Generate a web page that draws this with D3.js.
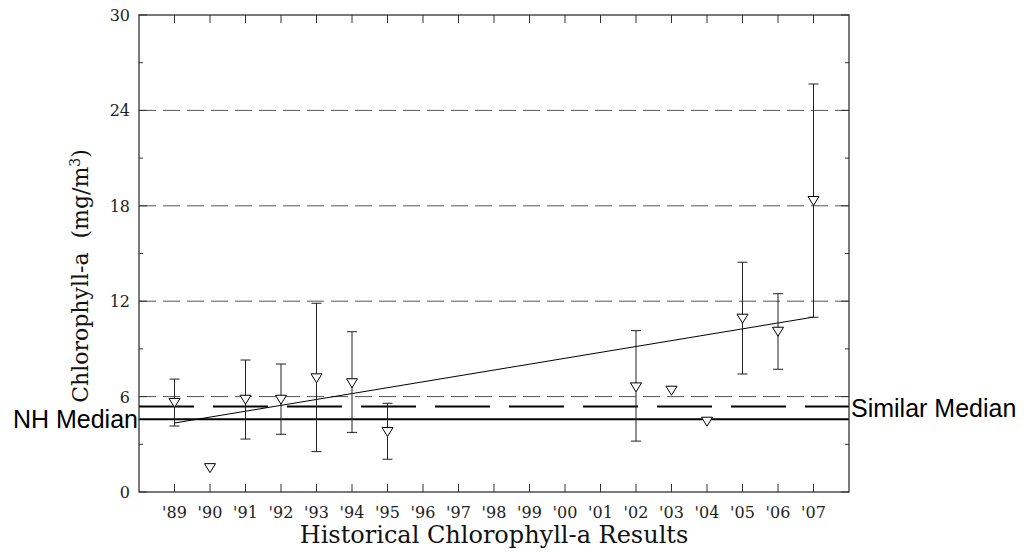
<!DOCTYPE html>
<html>
<head>
<meta charset="utf-8">
<script src="https://cdn.jsdelivr.net/npm/d3@7"></script>
<style>
  body { margin: 0; background: #fff; }
  svg { display: block; }
</style>
</head>
<body>
<div id="chart"></div>
<script>
// Historical chlorophyll-a values
const years = [1989, 1990, 1991, 1992, 1993, 1994, 1995, 2002, 2003, 2004, 2005, 2006, 2007];
const means = [5.6, 1.5, 5.8, 5.8, 7.15, 6.84, 3.77, 6.58, 6.37, 4.42, 10.9, 10.08, 18.3];
const upper = [7.1, null, 8.3, 8.05, 11.87, 10.08, 5.58, 10.15, null, null, 14.45, 12.47, 25.66];
const lower = [4.15, null, 3.33, 3.63, 2.54, 3.75, 2.06, 3.2, null, null, 7.42, 7.72, 10.99];

const trendYears = [1989, 2007];
const trendValues = [4.34, 11.0];

const nhMedian = 4.57;
const similarMedian = 5.37;

const yTicks = [0, 6, 12, 18, 24, 30];
const yMinorTicks = [3, 9, 15, 21, 27];
const gridValues = [6, 12, 18, 24];
const xTickYears = d3.range(1989, 2008);

const width = 1026, height = 552;
const margin = { left: 139, right: 177, top: 15, bottom: 60 };

const svg = d3.select('#chart')
    .append('svg')
    .attr('width', width)
    .attr('height', height);

const x = d3.scaleLinear()
    .domain([1988, 2008])
    .range([margin.left, width - margin.right]);

const y = d3.scaleLinear()
    .domain([0, 30])
    .range([height - margin.bottom, margin.top]);

const serif = "'DejaVu Serif', serif";
const sans = "'Liberation Sans', Arial, sans-serif";

// Dashed grid lines
svg.selectAll('.grid')
    .data(gridValues)
    .enter()
    .append('line')
    .attr('x1', x(1988))
    .attr('x2', x(2008))
    .attr('y1', d => y(d))
    .attr('y2', d => y(d))
    .attr('stroke', '#555')
    .attr('stroke-width', 1)
    .attr('stroke-dasharray', '17,7');

// Median lines
svg.append('line')
    .attr('x1', x(1988)).attr('x2', x(2008))
    .attr('y1', y(similarMedian)).attr('y2', y(similarMedian))
    .attr('stroke', '#000')
    .attr('stroke-width', 2)
    .attr('stroke-dasharray', '55,19');

svg.append('line')
    .attr('x1', x(1988)).attr('x2', x(2008))
    .attr('y1', y(nhMedian)).attr('y2', y(nhMedian))
    .attr('stroke', '#000')
    .attr('stroke-width', 2);

// Trend line
svg.append('line')
    .attr('x1', x(trendYears[0])).attr('x2', x(trendYears[1]))
    .attr('y1', y(trendValues[0])).attr('y2', y(trendValues[1]))
    .attr('stroke', '#000')
    .attr('stroke-width', 1);

// Error bars
const pts = years.map((yr, i) => ({ yr, m: means[i], hi: upper[i], lo: lower[i] }));
const bars = pts.filter(d => d.hi !== null);

svg.selectAll('.err')
    .data(bars)
    .enter()
    .append('line')
    .attr('x1', d => x(d.yr)).attr('x2', d => x(d.yr))
    .attr('y1', d => y(d.hi)).attr('y2', d => y(d.lo))
    .attr('stroke', '#222')
    .attr('stroke-width', 1);

['hi', 'lo'].forEach(k => {
    svg.selectAll('.cap-' + k)
        .data(bars)
        .enter()
        .append('line')
        .attr('x1', d => x(d.yr) - 5).attr('x2', d => x(d.yr) + 5)
        .attr('y1', d => y(d[k])).attr('y2', d => y(d[k]))
        .attr('stroke', '#222')
        .attr('stroke-width', 1);
});

// Downward triangle markers
svg.selectAll('.pt')
    .data(pts)
    .enter()
    .append('path')
    .attr('d', d => {
        const cx = x(d.yr), cy = y(d.m);
        return `M${cx - 5.5},${cy - 4.5}L${cx + 5.5},${cy - 4.5}L${cx},${cy + 4.5}Z`;
    })
    .attr('fill', '#fff')
    .attr('stroke', '#000')
    .attr('stroke-width', 1);

// Frame
svg.append('rect')
    .attr('x', x(1988))
    .attr('y', y(30))
    .attr('width', x(2008) - x(1988))
    .attr('height', y(0) - y(30))
    .attr('fill', 'none')
    .attr('stroke', '#333')
    .attr('stroke-width', 1.3);

// Bottom and top ticks (inward)
svg.selectAll('.xtick-b')
    .data(xTickYears)
    .enter()
    .append('line')
    .attr('x1', d => x(d)).attr('x2', d => x(d))
    .attr('y1', y(0)).attr('y2', y(0) - 8)
    .attr('stroke', '#333');

svg.selectAll('.xtick-t')
    .data(xTickYears)
    .enter()
    .append('line')
    .attr('x1', d => x(d)).attr('x2', d => x(d))
    .attr('y1', y(30)).attr('y2', y(30) + 8)
    .attr('stroke', '#333');

// Left and right ticks
[[x(1988), 1], [x(2008), -1]].forEach(([edge, dir]) => {
    svg.selectAll(null)
        .data(yTicks)
        .enter()
        .append('line')
        .attr('x1', edge).attr('x2', edge + dir * 8)
        .attr('y1', d => y(d)).attr('y2', d => y(d))
        .attr('stroke', '#333');
    svg.selectAll(null)
        .data(yMinorTicks)
        .enter()
        .append('line')
        .attr('x1', edge).attr('x2', edge + dir * 4)
        .attr('y1', d => y(d)).attr('y2', d => y(d))
        .attr('stroke', '#333');
});

// Tick labels
svg.selectAll('.ylab')
    .data(yTicks)
    .enter()
    .append('text')
    .attr('x', x(1988) - 9)
    .attr('y', d => y(d) + 6)
    .attr('text-anchor', 'end')
    .attr('font-family', serif)
    .attr('font-size', '16px')
    .attr('fill', '#222')
    .text(d => d);

svg.selectAll('.xlab')
    .data(xTickYears)
    .enter()
    .append('text')
    .attr('x', d => x(d))
    .attr('y', y(0) + 26)
    .attr('text-anchor', 'middle')
    .attr('font-family', serif)
    .attr('font-size', '16px')
    .attr('fill', '#222')
    .text(d => "'" + String(d).slice(2));

// Axis titles
svg.append('text')
    .attr('x', (x(1988) + x(2008)) / 2)
    .attr('y', 543)
    .attr('text-anchor', 'middle')
    .attr('font-family', serif)
    .attr('font-size', '24px')
    .attr('fill', '#111')
    .text('Historical Chlorophyll-a Results');

const yTitle = svg.append('text')
    .attr('transform', 'translate(88,276) rotate(-90)')
    .attr('text-anchor', 'middle')
    .attr('xml:space', 'preserve')
    .style('white-space', 'pre')
    .attr('font-family', serif)
    .attr('font-size', '22px')
    .attr('fill', '#111');
yTitle.append('tspan').text('Chlorophyll-a  (mg/m');
yTitle.append('tspan').attr('font-size', '14px').attr('dy', -8).text('3');
yTitle.append('tspan').attr('dy', 8).text(')');

// Median labels
svg.append('text')
    .attr('x', x(1988) - 1)
    .attr('y', 428)
    .attr('text-anchor', 'end')
    .attr('font-family', sans)
    .attr('font-size', '25px')
    .attr('fill', '#000')
    .text('NH Median');

svg.append('text')
    .attr('x', x(2008) + 2)
    .attr('y', 417)
    .attr('font-family', sans)
    .attr('font-size', '25px')
    .attr('fill', '#000')
    .text('Similar Median');
</script>
</body>
</html>
